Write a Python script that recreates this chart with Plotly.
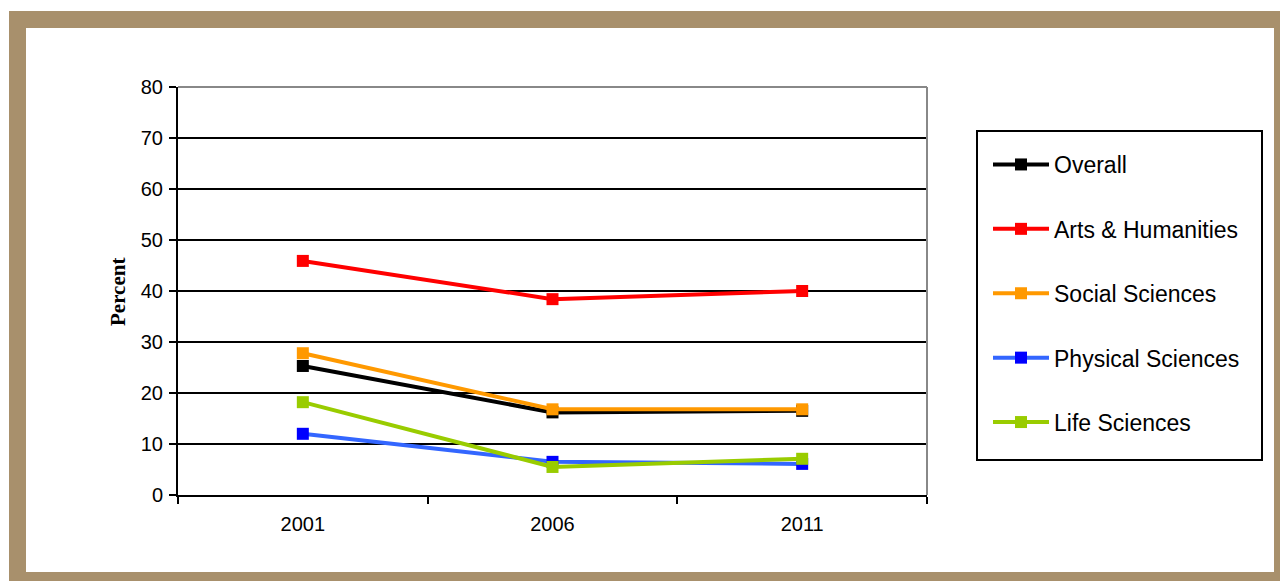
import plotly.graph_objects as go

years = ["2001", "2006", "2011"]
series_names = ["Overall", "Arts & Humanities", "Social Sciences", "Physical Sciences", "Life Sciences"]
overall = [25.3, 16.2, 16.5]
arts = [45.9, 38.4, 40.0]
social = [27.8, 16.8, 16.8]
physical = [12.0, 6.5, 6.1]
life = [18.2, 5.5, 7.1]
y_ticks = [0, 10, 20, 30, 40, 50, 60, 70, 80]

values = [overall, arts, social, physical, life]
line_colors = ["#000000", "#FF0000", "#FF9900", "#3366FF", "#99CC00"]
marker_colors = ["#000000", "#FF0000", "#FF9900", "#0000FF", "#99CC00"]

W, H = 1280, 581
L, R, T, B = 178, 927, 87, 495
pw, ph = R - L, B - T

def px(x):
    return (x - L) / pw

def py(y):
    return (B - y) / ph

fig = go.Figure()
for name, vals, lc, mc in zip(series_names, values, line_colors, marker_colors):
    fig.add_trace(go.Scatter(
        x=years, y=vals, name=name, mode="lines+markers",
        line=dict(color=lc, width=4),
        marker=dict(symbol="square", size=12, color=mc, line=dict(width=0)),
        legendgroup=name,
    ))

shapes = [
    # brown frame
    dict(type="rect", xref="paper", yref="paper", x0=px(9), x1=px(1281), y0=py(582), y1=py(11),
         fillcolor="#A8906C", line=dict(width=0), layer="below"),
    dict(type="rect", xref="paper", yref="paper", x0=px(26), x1=px(1274), y0=py(572), y1=py(28),
         fillcolor="#FFFFFF", line=dict(width=0), layer="below"),
    # plot area border top/right (gray)
    dict(type="line", xref="paper", yref="paper", x0=0, x1=1, y0=1, y1=1,
         line=dict(color="#888888", width=2), layer="above"),
    dict(type="line", xref="paper", yref="paper", x0=1, x1=1, y0=0, y1=1,
         line=dict(color="#888888", width=2), layer="above"),
    # legend box
    dict(type="rect", xref="paper", yref="paper", x0=px(977), x1=px(1262), y0=py(460), y1=py(131),
         fillcolor="rgba(0,0,0,0)", line=dict(color="#000000", width=2), layer="above"),
]

fig.update_layout(
    width=W, height=H,
    margin=dict(l=L, r=W - R, t=T, b=H - B, pad=0),
    paper_bgcolor="#FFFFFF",
    plot_bgcolor="rgba(0,0,0,0)",
    font=dict(family="Liberation Sans, Arial, sans-serif", color="#000000"),
    showlegend=True,
    legend=dict(
        x=px(988), y=py(143), xanchor="left", yanchor="top",
        font=dict(size=23, family="Liberation Sans, Arial, sans-serif", color="#000000"),
        bgcolor="rgba(0,0,0,0)", borderwidth=0,
        tracegroupgap=31.5, itemwidth=56, traceorder="grouped",
    ),
    shapes=shapes,
    annotations=[
        dict(text="<b>Percent</b>", xref="paper", yref="paper", x=px(118), y=py(292),
             xanchor="center", yanchor="middle", textangle=-90, showarrow=False,
             font=dict(family="Liberation Serif, Times New Roman, serif", size=21, color="#000000")),
    ],
)

fig.update_xaxes(
    type="category", range=[-0.5, 2.5],
    showline=True, linecolor="#000000", linewidth=2,
    showgrid=False, zeroline=False,
    ticks="outside", tickson="boundaries", ticklen=7, tickwidth=2, tickcolor="#000000",
    tickfont=dict(size=20, family="Liberation Sans, Arial, sans-serif", color="#000000"),
    ticklabelstandoff=10,
)
fig.update_yaxes(
    range=[0, 80], tickvals=y_ticks, ticktext=[str(v) for v in y_ticks],
    showline=True, linecolor="#000000", linewidth=2,
    showgrid=True, gridcolor="#000000", gridwidth=2,
    zeroline=False,
    ticks="outside", ticklen=7, tickwidth=2, tickcolor="#000000",
    tickfont=dict(size=20, family="Liberation Sans, Arial, sans-serif", color="#000000"),
    ticklabelstandoff=2,
)

fig.write_html("out.html", config={"displayModeBar": False},
               post_script="document.body.style.margin='0';document.body.style.overflow='hidden';")
